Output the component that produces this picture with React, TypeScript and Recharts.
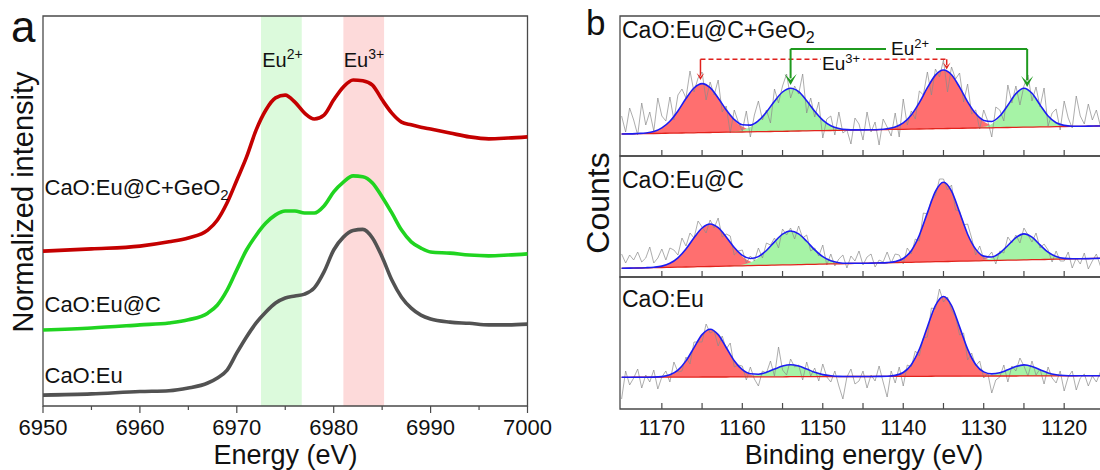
import { ComposedChart, Line, Area, XAxis, YAxis, ReferenceArea, ReferenceLine } from 'recharts';

const FONT = '"Liberation Sans", Arial, Helvetica, sans-serif';
const FRAME = '#4a4a4a';

// ---------- panel a: Eu L3-edge XANES ----------
const xanesEnergy = [6950, 6955, 6960, 6963, 6965, 6967, 6968, 6969, 6970, 6971, 6972, 6973, 6974, 6975, 6976, 6977, 6978, 6979, 6980, 6981, 6982, 6983, 6984, 6985, 6986, 6987, 6988, 6989, 6990, 6992, 6994, 6996, 6998, 7000];
const xanesCaOEu = [2.8, 3.1, 3.7, 3.9, 4.6, 5.9, 7.2, 9.2, 13.6, 17.7, 21.3, 24.1, 26.4, 27.7, 28.2, 28.7, 30.3, 34.4, 40.0, 43.3, 45.0, 45.3, 43.1, 38.2, 32.3, 27.9, 25.1, 23.3, 22.3, 21.5, 21.2, 20.8, 20.8, 21.0];
const xanesCaOEuC = [19.5, 20.0, 20.8, 21.3, 22.1, 23.8, 25.9, 29.7, 34.9, 40.0, 43.8, 46.9, 49.0, 50.0, 50.0, 49.5, 49.5, 51.3, 54.9, 57.4, 59.0, 58.8, 57.2, 53.6, 49.5, 45.1, 42.1, 40.5, 39.5, 39.2, 38.7, 38.5, 38.7, 39.0];
const xanesCaOEuCGeO2 = [39.7, 40.3, 41.0, 42.1, 43.1, 45.1, 47.7, 52.1, 57.9, 63.8, 70.8, 75.9, 79.0, 79.7, 77.9, 75.1, 73.6, 74.6, 78.5, 81.8, 83.6, 83.4, 82.3, 78.5, 75.1, 72.8, 72.1, 71.5, 71.0, 70.0, 69.0, 68.5, 68.7, 69.0];
const xanesTicks = [6950, 6955, 6960, 6965, 6970, 6975, 6980, 6985, 6990, 6995, 7000];
const eu2Band = [6972.5, 6976.7];
const eu3Band = [6981.0, 6985.2];

// ---------- panel b: Eu 3d XPS ----------
const fitEnergy = [1175, 1174, 1173, 1172, 1171, 1170, 1169, 1168, 1167, 1166, 1165, 1164, 1163, 1162, 1161, 1160, 1159, 1158, 1157, 1156, 1155, 1154, 1153, 1152, 1151, 1150, 1149, 1148, 1147, 1146, 1145, 1144, 1143, 1142, 1141, 1140, 1139, 1138, 1137, 1136, 1135, 1134, 1133, 1132, 1131, 1130, 1129, 1128, 1127, 1126, 1125, 1124, 1123, 1122, 1121, 1120, 1119, 1118, 1117, 1116, 1115];
const rawEnergy = [
  1175, 1174.5, 1174, 1173.5, 1173, 1172.5, 1172, 1171.5, 1171, 1170.5,
  1170, 1169.5, 1169, 1168.5, 1168, 1167.5, 1167, 1166.5, 1166, 1165.5,
  1165, 1164.5, 1164, 1163.5, 1163, 1162.5, 1162, 1161.5, 1161, 1160.5,
  1160, 1159.5, 1159, 1158.5, 1158, 1157.5, 1157, 1156.5, 1156, 1155.5,
  1155, 1154.5, 1154, 1153.5, 1153, 1152.5, 1152, 1151.5, 1151, 1150.5,
  1150, 1149.5, 1149, 1148.5, 1148, 1147.5, 1147, 1146.5, 1146, 1145.5,
  1145, 1144.5, 1144, 1143.5, 1143, 1142.5, 1142, 1141.5, 1141, 1140.5,
  1140, 1139.5, 1139, 1138.5, 1138, 1137.5, 1137, 1136.5, 1136, 1135.5,
  1135, 1134.5, 1134, 1133.5, 1133, 1132.5, 1132, 1131.5, 1131, 1130.5,
  1130, 1129.5, 1129, 1128.5, 1128, 1127.5, 1127, 1126.5, 1126, 1125.5,
  1125, 1124.5, 1124, 1123.5, 1123, 1122.5, 1122, 1121.5, 1121, 1120.5,
  1120, 1119.5, 1119, 1118.5, 1118, 1117.5, 1117, 1116.5, 1116, 1115.5,
  1115,
];
const xpsTicks = [1170, 1165, 1160, 1155, 1150, 1145, 1140, 1135, 1130, 1125, 1120];

// CaO:Eu@C+GeO2
const rawGe = [
  40, 24, 48, 36, 21, 53, 31, 44, 25, 58, 40, 35, 59, 36, 61, 67, 58, 85, 64, 78,
  84, 56, 74, 61, 76, 44, 50, 23, 46, 34, 25, 45, 19, 41, 55, 36, 46, 33, 67, 53,
  70, 82, 58, 70, 62, 82, 43, 58, 39, 54, 18, 37, 40, 21, 44, 23, 26, 12, 38, 32,
  16, 44, 24, 34, 11, 37, 29, 20, 43, 19, 57, 31, 45, 37, 65, 61, 84, 61, 87, 79,
  96, 64, 89, 77, 83, 54, 72, 42, 46, 27, 46, 35, 19, 49, 46, 35, 71, 53, 70, 51,
  70, 81, 55, 69, 49, 68, 30, 43, 47, 26, 55, 38, 28, 60, 40, 32, 52, 36, 46, 30, 48,
];
const baseGe = [
  22.0, 22.1, 22.3, 22.4, 22.5, 22.7, 22.8, 22.9, 23.1, 23.2,
  23.4, 23.5, 23.6, 23.8, 23.9, 24.0, 24.2, 24.3, 24.4, 24.6,
  24.7, 24.8, 25.0, 25.1, 25.3, 25.4, 25.5, 25.7, 25.8, 25.9,
  26.1, 26.2, 26.3, 26.5, 26.6, 26.7, 26.9, 27.0, 27.2, 27.3,
  27.4, 27.6, 27.7, 27.8, 28.0, 28.1, 28.2, 28.4, 28.5, 28.6,
  28.8, 28.9, 29.1, 29.2, 29.3, 29.5, 29.6, 29.7, 29.9, 30.0, 30.1,
];
const eu3Ge = [
  0, 0, 0.2, 0.6, 2.0, 5.4, 11.9, 22.1, 34.4, 44.8,
  49, 44.8, 34.4, 22.1, 11.9, 5.4, 2.0, 0.6, 0.2, 0,
  0, 0, 0, 0, 0, 0, 0, 0, 0, 0,
  0, 0, 0.2, 0.8, 2.4, 6.4, 14.2, 26.4, 41.1, 53.6,
  58.6, 53.6, 41.1, 26.4, 14.2, 6.4, 2.4, 0.8, 0.2, 0,
  0, 0, 0, 0, 0, 0, 0, 0, 0, 0, 0,
];
const eu2Ge = [
  0, 0, 0, 0, 0, 0, 0, 0, 0, 0,
  0, 0, 0, 0.2, 0.6, 1.8, 4.7, 10.4, 19.4, 30.2,
  39.3, 43, 39.3, 30.2, 19.4, 10.4, 4.7, 1.8, 0.6, 0.2,
  0, 0, 0, 0, 0, 0, 0, 0, 0, 0,
  0, 0, 0, 0, 0.2, 1.1, 3.9, 10.8, 22.0, 33.8,
  39, 33.8, 22.0, 10.8, 3.9, 1.1, 0.2, 0, 0, 0, 0,
];

// CaO:Eu@C
const rawC = [
  23, 14, 22, 17, 25, 15, 19, 30, 14, 19, 28, 17, 29, 27, 22, 39, 31, 44, 39, 56,
  50, 44, 57, 49, 59, 40, 43, 41, 22, 26, 27, 14, 21, 16, 29, 19, 34, 32, 39, 29,
  48, 42, 49, 38, 51, 39, 42, 26, 29, 21, 32, 12, 23, 11, 18, 22, 9, 21, 16, 26,
  12, 20, 23, 10, 17, 15, 25, 14, 23, 22, 13, 29, 23, 38, 36, 64, 63, 77, 81, 98,
  98, 87, 92, 67, 66, 52, 53, 39, 22, 31, 18, 20, 25, 13, 26, 24, 40, 34, 42, 34,
  49, 42, 35, 44, 29, 33, 27, 15, 26, 16, 16, 25, 9, 19, 13, 24, 8, 16, 23, 11, 19,
];
const baseC = [
  8.7, 8.9, 9.0, 9.2, 9.4, 9.5, 9.7, 9.9, 10.0, 10.2,
  10.4, 10.5, 10.7, 10.9, 11.1, 11.2, 11.4, 11.6, 11.7, 11.9,
  12.1, 12.2, 12.4, 12.6, 12.7, 12.9, 13.1, 13.2, 13.4, 13.6,
  13.7, 13.9, 14.1, 14.2, 14.4, 14.6, 14.7, 14.9, 15.1, 15.3,
  15.4, 15.6, 15.8, 15.9, 16.1, 16.3, 16.4, 16.6, 16.8, 16.9,
  17.1, 17.3, 17.4, 17.6, 17.8, 17.9, 18.1, 18.3, 18.4, 18.6, 18.8,
];
const eu3C = [
  0, 0, 0, 0.1, 0.4, 1.4, 4.0, 9.3, 18.1, 29.1,
  38.6, 42.5, 38.6, 29.1, 18.1, 9.3, 4.0, 1.4, 0.4, 0.1,
  0, 0, 0, 0, 0, 0, 0, 0, 0, 0,
  0, 0, 0, 0.2, 1.0, 3.9, 11.6, 26.9, 49.0, 70.3,
  79.3, 70.3, 49.0, 26.9, 11.6, 3.9, 1.0, 0.2, 0, 0,
  0, 0, 0, 0, 0, 0, 0, 0, 0, 0, 0,
];
const eu2C = [
  0, 0, 0, 0, 0, 0, 0, 0, 0, 0,
  0, 0, 0, 0.1, 0.3, 1.1, 3.1, 7.4, 14.4, 23.1,
  30.7, 33.8, 30.7, 23.1, 14.4, 7.4, 3.1, 1.1, 0.3, 0.1,
  0, 0, 0, 0, 0, 0, 0, 0, 0, 0,
  0, 0, 0, 0, 0.2, 0.7, 2.6, 7.2, 14.7, 22.5,
  26, 22.5, 14.7, 7.2, 2.6, 0.7, 0.2, 0, 0, 0, 0,
];

// CaO:Eu
const rawEu = [
  10, 38, 24, 31, 40, 21, 34, 27, 39, 20, 32, 38, 27, 47, 37, 38, 52, 45, 67, 67,
  67, 85, 76, 78, 63, 73, 60, 66, 42, 44, 43, 29, 42, 30, 23, 38, 36, 48, 33, 62,
  39, 34, 50, 42, 44, 29, 47, 33, 41, 28, 45, 32, 27, 38, 23, 10, 32, 40, 25, 28,
  38, 21, 34, 28, 43, 27, 12, 38, 26, 42, 23, 44, 42, 58, 53, 71, 72, 101, 100, 120,
  107, 112, 99, 92, 74, 76, 49, 56, 43, 48, 31, 36, 16, 29, 32, 44, 27, 43, 38, 51,
  43, 33, 48, 34, 40, 25, 42, 31, 26, 38, 18, 32, 38, 19, 31, 35, 23, 33, 27, 37, 26,
];
const baseEu = [
  31.7, 31.7, 31.8, 31.8, 31.8, 31.8, 31.9, 31.9, 31.9, 31.9,
  32.0, 32.0, 32.0, 32.0, 32.1, 32.1, 32.1, 32.2, 32.2, 32.2,
  32.2, 32.3, 32.3, 32.3, 32.3, 32.4, 32.4, 32.4, 32.5, 32.5,
  32.5, 32.5, 32.6, 32.6, 32.6, 32.6, 32.7, 32.7, 32.7, 32.8,
  32.8, 32.8, 32.8, 32.9, 32.9, 32.9, 33.0, 33.0, 33.0, 33.0,
  33.1, 33.1, 33.1, 33.1, 33.2, 33.2, 33.2, 33.3, 33.3, 33.3, 33.3,
];
const eu3Eu = [
  0, 0, 0, 0, 0.1, 0.6, 2.3, 7.0, 16.2, 29.5,
  42.4, 47.8, 42.4, 29.5, 16.2, 7.0, 2.3, 0.6, 0.1, 0,
  0, 0, 0, 0, 0, 0, 0, 0, 0, 0,
  0, 0, 0, 0.2, 1.0, 3.9, 11.6, 27.0, 49.3, 70.7,
  79.7, 70.7, 49.3, 27.0, 11.6, 3.9, 1.0, 0.2, 0, 0,
  0, 0, 0, 0, 0, 0, 0, 0, 0, 0, 0,
];
const eu2Eu = [
  0, 0, 0, 0, 0, 0, 0, 0, 0, 0,
  0, 0, 0, 0, 0, 0.2, 0.8, 2.0, 4.4, 7.7,
  10.7, 12, 10.7, 7.7, 4.4, 2.0, 0.8, 0.2, 0, 0,
  0, 0, 0, 0, 0, 0, 0, 0, 0, 0,
  0, 0, 0, 0, 0, 0.3, 1.1, 3.0, 6.2, 9.5,
  11, 9.5, 6.2, 3.0, 1.1, 0.3, 0, 0, 0, 0, 0,
];

// arrows in the top XPS panel (energy, level of the bracket, arrow tip)
const eu3Arrows = [1165.2, 1134.6];
const eu3ArrowTips = [76, 86.5];
const eu3BracketLevel = 96.7;
const eu2Arrows = [1154.0, 1124.6];
const eu2ArrowTips = [71, 69];
const eu2BracketLevel = 107;

const XPS_DOMAIN: [number, number] = [1115.3, 1175.2];

const xanesData = xanesEnergy.map((e, i) => ({
  e,
  eu: xanesCaOEu[i],
  euC: xanesCaOEuC[i],
  euCGe: xanesCaOEuCGeO2[i],
}));

function buildXps(raw: number[], base: number[], eu3: number[], eu2: number[]) {
  const fitIndex = new Map(fitEnergy.map((e, j) => [e, j]));
  return rawEnergy.map((e, i) => {
    const row: any = { e, raw: raw[i] };
    const j = fitIndex.get(e);
    if (j !== undefined) {
      row.base = base[j];
      row.eu3 = [base[j], base[j] + eu3[j]];
      row.eu2 = [base[j], base[j] + eu2[j]];
      row.env = base[j] + eu3[j] + eu2[j];
    }
    return row;
  });
}

const XanesTick = (props: any) => {
  const { x, y, payload } = props;
  const major = payload.value % 10 === 0;
  return (
    <g>
      <line x1={x} x2={x} y1={y} y2={y + (major ? 7 : 4)} stroke={FRAME} strokeWidth={1.2} />
      {major && (
        <text x={x} y={y + 28.5} textAnchor="middle" fontSize={22} fontFamily={FONT} fill="#111">
          {payload.value}
        </text>
      )}
    </g>
  );
};

const makeXpsTick = (withLabel: boolean) => (props: any) => {
  const { x, y, payload } = props;
  const major = payload.value % 10 === 0;
  return (
    <g>
      <line x1={x} x2={x} y1={y} y2={y - 6} stroke={FRAME} strokeWidth={1.2} />
      {withLabel && major && (
        <text x={x} y={y + 25.5} textAnchor="middle" fontSize={21.5} fontFamily={FONT} fill="#111">
          {payload.value}
        </text>
      )}
    </g>
  );
};

const arrowShape = (color: string, width: number, head: number) => (p: any) => (
  <g>
    <line x1={p.x1} y1={p.y1} x2={p.x2} y2={p.y2 - head * 0.6} stroke={color} strokeWidth={width} />
    <path
      d={`M${p.x2 - head * 0.55},${p.y2 - head} L${p.x2},${p.y2} L${p.x2 + head * 0.55},${p.y2 - head} L${p.x2},${p.y2 - head * 0.45} Z`}
      fill={color}
    />
  </g>
);

const xpsPanels = [
  { key: 'ge', top: 16, height: 140, rows: buildXps(rawGe, baseGe, eu3Ge, eu2Ge) },
  { key: 'c', top: 156, height: 121, rows: buildXps(rawC, baseC, eu3C, eu2C) },
  { key: 'eu', top: 277, height: 132, rows: buildXps(rawEu, baseEu, eu3Eu, eu2Eu) },
];

function XpsPanel({ panel, last, arrows }: { panel: any; last: boolean; arrows: boolean }) {
  const pad = 10;
  const axisH = last ? 60 : pad;
  return (
    <div style={{ position: 'absolute', left: 620 - pad, top: panel.top - pad }}>
      <ComposedChart
        width={pad + 482 + 2}
        height={pad + panel.height + axisH}
        data={panel.rows}
        margin={{ top: pad, right: 2, bottom: 0, left: pad }}
      >
        <XAxis
          type="number"
          dataKey="e"
          domain={XPS_DOMAIN}
          reversed
          allowDataOverflow
          ticks={xpsTicks}
          tick={makeXpsTick(last)}
          tickLine={false}
          axisLine={false}
          tickSize={0}
          tickMargin={0}
          height={axisH}
          interval={0}
        />
        <YAxis hide type="number" domain={[0, panel.height]} allowDataOverflow />
        <Area type="monotone" dataKey="eu3" fill="#ff6f6f" fillOpacity={1} stroke="none" connectNulls isAnimationActive={false} />
        <Area type="monotone" dataKey="eu2" fill="#a6f3a6" fillOpacity={1} stroke="none" connectNulls isAnimationActive={false} />
        <Line type="linear" dataKey="raw" stroke="#8a8a8a" strokeWidth={0.7} dot={false} isAnimationActive={false} />
        <Line type="monotone" dataKey="base" stroke="#e2231c" strokeWidth={1.3} dot={false} connectNulls isAnimationActive={false} />
        <Line type="monotone" dataKey="env" stroke="#1c1cf2" strokeWidth={1.6} dot={false} connectNulls isAnimationActive={false} />
        {arrows && (
          <ReferenceLine
            segment={[{ x: eu3Arrows[0], y: eu3BracketLevel }, { x: eu3Arrows[1], y: eu3BracketLevel }]}
            stroke="#e0201c"
            strokeWidth={1.5}
            strokeDasharray="5 3"
          />
        )}
        {arrows &&
          eu3Arrows.map((e, i) => (
            <ReferenceLine
              key={'r' + i}
              segment={[{ x: e, y: eu3BracketLevel }, { x: e, y: eu3ArrowTips[i] }]}
              shape={arrowShape('#e0201c', 1.5, 7)}
            />
          ))}
        {arrows && (
          <ReferenceLine
            segment={[{ x: eu2Arrows[0], y: eu2BracketLevel }, { x: eu2Arrows[1], y: eu2BracketLevel }]}
            stroke="#1f9a1f"
            strokeWidth={2}
          />
        )}
        {arrows &&
          eu2Arrows.map((e, i) => (
            <ReferenceLine
              key={'g' + i}
              segment={[{ x: e, y: eu2BracketLevel }, { x: e, y: eu2ArrowTips[i] }]}
              shape={arrowShape('#1f9a1f', 2, 11)}
            />
          ))}
        <ReferenceArea x1={XPS_DOMAIN[0]} x2={XPS_DOMAIN[1]} y1={0} y2={panel.height} fill="none" stroke={FRAME} strokeWidth={1.3} />
      </ComposedChart>
    </div>
  );
}

export default function App() {
  return (
    <div style={{ position: 'absolute', left: 0, top: 0, width: 1100, height: 470, overflow: 'hidden', background: '#fff' }}>
      <div style={{ position: 'absolute', left: 0, top: 0 }}>
        <ComposedChart width={560} height={470} data={xanesData} margin={{ top: 16, right: 32.5, bottom: 0, left: 43 }}>
          <XAxis
            type="number"
            dataKey="e"
            domain={[6950, 7000]}
            ticks={xanesTicks}
            tick={XanesTick}
            tickLine={false}
            axisLine={false}
            tickSize={0}
            tickMargin={0}
            height={64}
            interval={0}
          />
          <YAxis hide type="number" domain={[0, 100]} />
          <ReferenceArea x1={eu2Band[0]} x2={eu2Band[1]} y1={0} y2={100} fill="#dcfadc" fillOpacity={1} stroke="none" />
          <ReferenceArea x1={eu3Band[0]} x2={eu3Band[1]} y1={0} y2={100} fill="#fddada" fillOpacity={1} stroke="none" />
          <Line type="monotone" dataKey="eu" stroke="#525252" strokeWidth={3.6} dot={false} isAnimationActive={false} />
          <Line type="monotone" dataKey="euC" stroke="#20d420" strokeWidth={3.6} dot={false} isAnimationActive={false} />
          <Line type="monotone" dataKey="euCGe" stroke="#c40000" strokeWidth={3.6} dot={false} isAnimationActive={false} />
          <ReferenceArea x1={6950} x2={7000} y1={0} y2={100} fill="none" stroke={FRAME} strokeWidth={1.3} />
        </ComposedChart>
      </div>

      {xpsPanels.map((p, i) => (
        <XpsPanel key={p.key} panel={p} last={i === xpsPanels.length - 1} arrows={i === 0} />
      ))}

      <svg
        width={1100}
        height={470}
        style={{ position: 'absolute', left: 0, top: 0, pointerEvents: 'none' }}
        fontFamily={FONT}
        fill="#111"
      >
        <text x={11} y={42} fontSize={44}>a</text>
        <text x={586} y={35} fontSize={35}>b</text>
        <text transform="translate(33,202) rotate(-90)" textAnchor="middle" fontSize={29}>Normalized intensity</text>
        <text x={285.5} y={464} textAnchor="middle" fontSize={27}>Energy (eV)</text>
        <text transform="translate(609,203) rotate(-90)" textAnchor="middle" fontSize={32}>Counts</text>
        <text x={864} y={464} textAnchor="middle" fontSize={27}>Binding energy (eV)</text>

        {/* panel a labels */}
        <text x={282.5} y={66.7} textAnchor="middle" fontSize={20}>
          Eu<tspan fontSize={14} dy={-8}>2+</tspan>
        </text>
        <text x={364} y={66.7} textAnchor="middle" fontSize={20}>
          Eu<tspan fontSize={14} dy={-8}>3+</tspan>
        </text>
        <text x={44.5} y={195} fontSize={22}>
          CaO:Eu@C+GeO<tspan fontSize={15} dy={5}>2</tspan>
        </text>
        <text x={44.5} y={312} fontSize={22}>CaO:Eu@C</text>
        <text x={44.5} y={383} fontSize={22}>CaO:Eu</text>

        {/* panel b labels */}
        <text x={622} y={38} fontSize={23}>
          CaO:Eu@C+GeO<tspan fontSize={16} dy={5}>2</tspan>
        </text>
        <text x={622} y={188} fontSize={23}>CaO:Eu@C</text>
        <text x={622} y={307} fontSize={23}>CaO:Eu</text>
        <rect x={886} y={37} width={50} height={20} fill="#fff" />
        <text x={891} y={55} fontSize={19}>
          Eu<tspan fontSize={13} dy={-7}>2+</tspan>
        </text>
        <rect x={821} y={53} width={42} height={18} fill="#fff" />
        <text x={822} y={70} fontSize={19}>
          Eu<tspan fontSize={13} dy={-7}>3+</tspan>
        </text>
      </svg>
    </div>
  );
}
